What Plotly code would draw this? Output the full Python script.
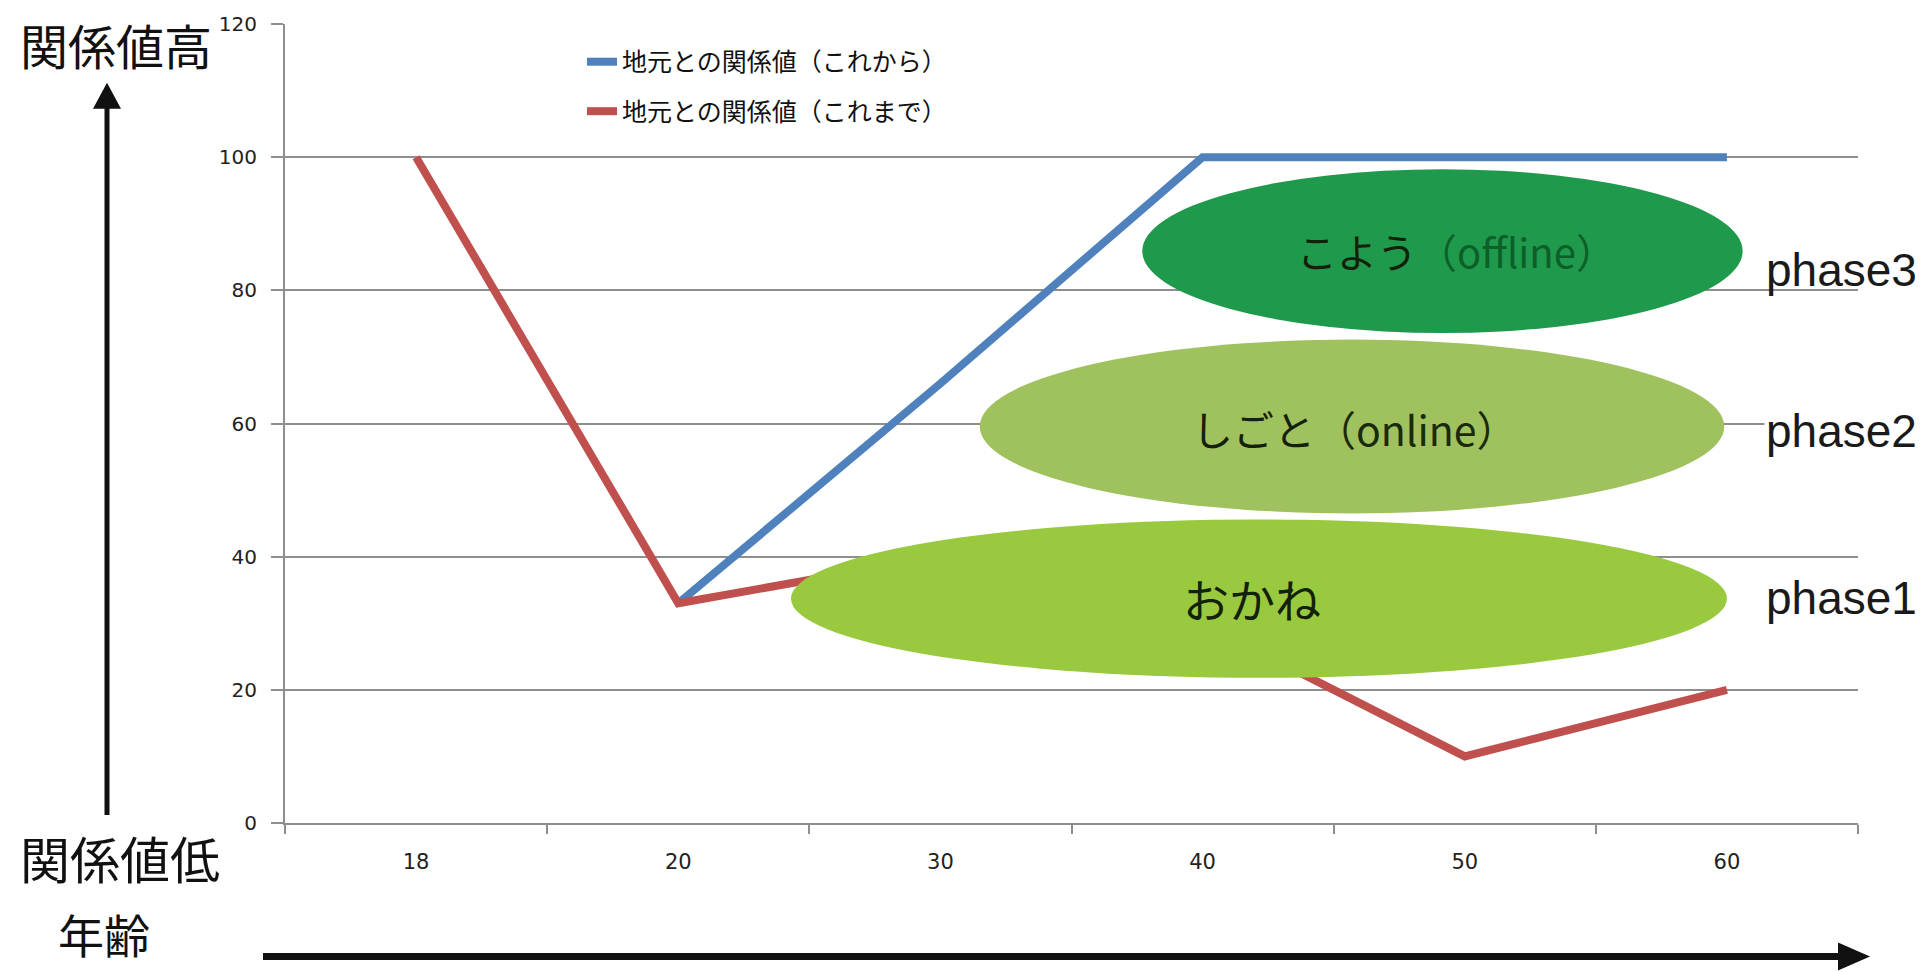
import plotly.graph_objects as go

# ---------------- data ----------------
ages = ["18", "20", "30", "40", "50", "60"]
future_vals = [None, 33, 66, 100, 100, 100]   # 地元との関係値（これから）
past_vals = [100, 33, 40, 30, 10, 20]          # 地元との関係値（これまで）
series_names = ["地元との関係値（これから）", "地元との関係値（これまで）"]
series_colors = ["#4F81BD", "#C0504D"]
y_ticks = [0, 20, 40, 60, 80, 100, 120]

phase_labels = ["phase1", "phase2", "phase3"]
phase_main = ["おかね", "しごと", "こよう"]
phase_sub = ["", "（online）", "（offline）"]

# ---------------- layout helpers ----------------
W, H = 1921, 972
PL, PR, PT, PB = 285, 1858, 21, 823


def px_x(x):
    return (x - PL) / (PR - PL)


def px_y(y):
    return (PB - y) / (PB - PT)


fig = go.Figure()
for name, vals, col in zip(series_names, [future_vals, past_vals], series_colors):
    fig.add_trace(go.Scatter(
        x=ages, y=vals, name=name, mode="lines",
        line=dict(color=col, width=8), legendgroup=name,
        connectgaps=False,
    ))

shapes = []
# ellipses (category index units on x, value units on y)
ell = [
    dict(x0=1.43, x1=5.00, y0=21.8, y1=45.6, color="#99C93E"),   # おかね
    dict(x0=2.15, x1=4.99, y0=46.5, y1=72.6, color="#A0C25E"),   # しごと
    dict(x0=2.77, x1=5.06, y0=73.6, y1=98.2, color="#1F9A4C"),   # こよう
]
for e in ell:
    shapes.append(dict(type="circle", xref="x", yref="y", x0=e["x0"], x1=e["x1"],
                       y0=e["y0"], y1=e["y1"], fillcolor=e["color"],
                       line=dict(width=0), layer="above"))

# axis arrows (paper coords)
ax_col = "#111111"
shapes.append(dict(type="line", xref="paper", yref="paper",
                   x0=px_x(107), x1=px_x(107), y0=px_y(815), y1=px_y(100),
                   line=dict(color=ax_col, width=5)))
shapes.append(dict(type="path", xref="paper", yref="paper",
                   path=f"M {px_x(107)} {px_y(80)} L {px_x(93)} {px_y(106)} L {px_x(121)} {px_y(106)} Z",
                   fillcolor=ax_col, line=dict(width=0)))
shapes.append(dict(type="line", xref="paper", yref="paper",
                   x0=px_x(263), x1=px_x(1845), y0=px_y(957), y1=px_y(957),
                   line=dict(color=ax_col, width=7)))
shapes.append(dict(type="path", xref="paper", yref="paper",
                   path=f"M {px_x(1870)} {px_y(957)} L {px_x(1838)} {px_y(943)} L {px_x(1838)} {px_y(971)} Z",
                   fillcolor=ax_col, line=dict(width=0)))

annotations = []
jp = "Noto Sans CJK JP"
# ellipse texts
ell_txt = [
    dict(x=3.19, y=33.8, size=46, sub_col="#1a2a0a"),
    dict(x=3.58, y=59.4, size=41, sub_col="#1a2a0a"),
    dict(x=3.97, y=85.9, size=40, sub_col="#0c5f28"),
]
for m, s, t in zip(phase_main, phase_sub, ell_txt):
    txt = f"<span style='color:#14210a'>{m}</span>"
    if s:
        txt += f"<span style='color:{t['sub_col']}'>{s}</span>"
    annotations.append(dict(xref="x", yref="y", x=t["x"], y=t["y"], text=txt,
                            showarrow=False, font=dict(family=jp, size=t["size"])))

# phase labels
phase_y = [597, 430, 268]
for lab, yy in zip(phase_labels, phase_y):
    annotations.append(dict(xref="paper", yref="paper", x=px_x(1764), y=px_y(yy),
                            xanchor="left", yanchor="middle", text=lab, showarrow=False,
                            bgcolor="white" if lab == "phase2" else None,
                            font=dict(family="Liberation Sans", size=46, color="#1a1a1a")))

# side labels
for txt, cx, cy, fs in [("関係値高", 116, 41, 48), ("関係値低", 120, 857, 50), ("年齢", 104, 933, 46)]:
    annotations.append(dict(xref="paper", yref="paper", x=px_x(cx), y=px_y(cy),
                            xanchor="center", yanchor="middle", text=txt, showarrow=False,
                            font=dict(family=jp, size=fs, color="#111111")))

grid_col = "#8E8E8E"
fig.update_layout(
    width=W, height=H,
    margin=dict(l=PL, r=W - PR, t=PT, b=H - PB, pad=0),
    paper_bgcolor="white", plot_bgcolor="white",
    shapes=shapes, annotations=annotations,
    showlegend=True,
    legend=dict(x=px_x(582), y=px_y(36), xanchor="left", yanchor="top",
                bgcolor="rgba(0,0,0,0)", font=dict(family=jp, size=25, color="#111111"),
                tracegroupgap=14),
    xaxis=dict(type="category", range=[-0.5, 5.5], showgrid=False, showline=True,
               linecolor=grid_col, linewidth=2, ticks="outside", tickson="boundaries",
               ticklen=9, tickcolor=grid_col, tickwidth=2, ticklabelstandoff=19,
               tickfont=dict(family="DejaVu Sans", size=21, color="#222222")),
    yaxis=dict(range=[0, 120], tickvals=y_ticks, showgrid=True, gridcolor=grid_col,
               gridwidth=2, showline=True, linecolor=grid_col, linewidth=2,
               ticks="outside", ticklen=12, tickcolor=grid_col, tickwidth=2,
               zeroline=False, ticklabelstandoff=10,
               tickfont=dict(family="DejaVu Sans", size=20, color="#222222")),
)

fig.write_html("out.html", config={"displayModeBar": False},
               post_script="document.body.style.margin='0';document.body.style.overflow='hidden';")
